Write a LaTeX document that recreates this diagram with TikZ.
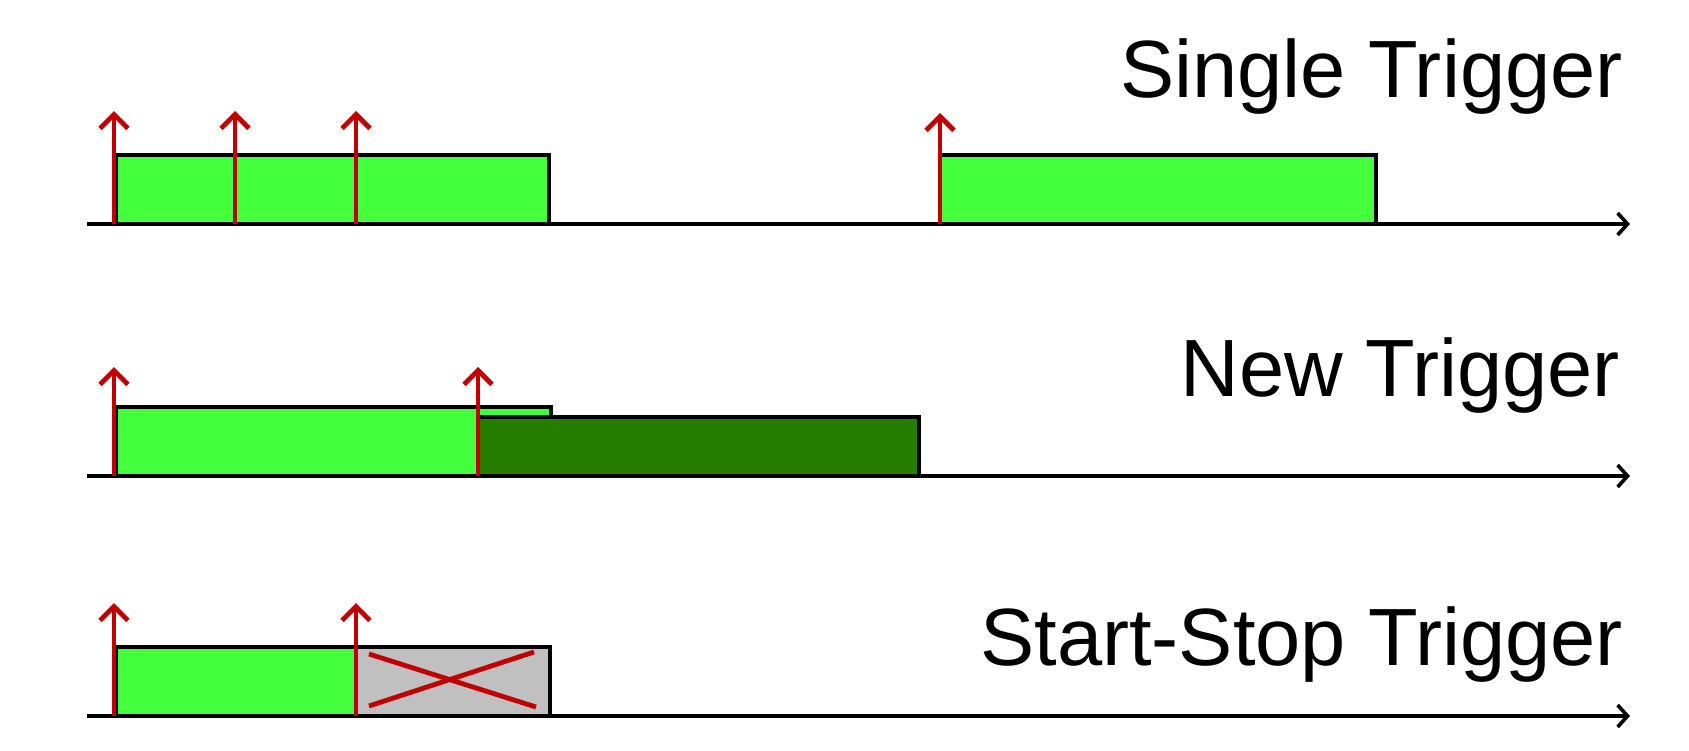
\documentclass[tikz,border=0pt]{standalone}
\usepackage{fontspec}
\setmainfont{Liberation Sans}
\usetikzlibrary{arrows.meta}
\definecolor{lgreen}{RGB}{68,255,59}
\definecolor{dgreen}{RGB}{38,125,0}
\definecolor{xgray}{RGB}{192,192,192}
\definecolor{tred}{RGB}{192,0,0}
\tikzset{
  axisline/.style={line width=1.8pt, -{Straight Barb[length=5pt,width=11pt,line width=1.8pt]}},
  pulse/.style={draw=black, line width=1.9pt},
  trig/.style={draw=tred, line width=2.4pt, -{Straight Barb[length=7pt,width=14pt,line width=2.4pt]}},
  cross/.style={draw=tred, line width=2.4pt},
  label/.style={anchor=base east, inner sep=0pt, font=\fontsize{40.6pt}{45pt}\selectfont}
}
\begin{document}
\begin{tikzpicture}[x=0.5pt,y=-0.5pt]
\useasboundingbox (0,0) rectangle (1689,750);
% ---------- Row 1 : Single Trigger
\coordinate (a1s) at (87,224);
\coordinate (a1e) at (1630,224);
\filldraw[pulse, fill=lgreen] (116,224) rectangle (549,155);
\filldraw[pulse, fill=lgreen] (940,224) rectangle (1376,155);
\draw[axisline] (a1s) -- (a1e);
\coordinate (t1a) at (114,224); \coordinate (t1ah) at (114,111);
\coordinate (t1b) at (235,224); \coordinate (t1bh) at (235,111);
\coordinate (t1c) at (356,224); \coordinate (t1ch) at (356,111);
\coordinate (t1d) at (940,224); \coordinate (t1dh) at (940,113);
\draw[trig] (t1a) -- (t1ah);
\draw[trig] (t1b) -- (t1bh);
\draw[trig] (t1c) -- (t1ch);
\draw[trig] (t1d) -- (t1dh);
\node[label] (l1) at (1623,97) {Single Trigger};
% ---------- Row 2 : New Trigger
\coordinate (a2s) at (87,476);
\coordinate (a2e) at (1630,476);
\filldraw[pulse, fill=lgreen] (116,476) rectangle (551,407);
\filldraw[pulse, fill=dgreen] (478,476) rectangle (919,417);
\draw[axisline] (a2s) -- (a2e);
\coordinate (t2a) at (114,476); \coordinate (t2ah) at (114,367);
\coordinate (t2b) at (478,476); \coordinate (t2bh) at (478,367);
\draw[trig] (t2a) -- (t2ah);
\draw[trig] (t2b) -- (t2bh);
\node[label] (l2) at (1620,396) {New Trigger};
% ---------- Row 3 : Start-Stop Trigger
\coordinate (a3s) at (87,716);
\coordinate (a3e) at (1630,716);
\filldraw[pulse, fill=lgreen] (116,716) rectangle (356,647);
\filldraw[pulse, fill=xgray] (356,716) rectangle (550,647);
\draw[axisline] (a3s) -- (a3e);
\coordinate (x1) at (369,654); \coordinate (x2) at (536,707);
\coordinate (x3) at (369,706); \coordinate (x4) at (534,652);
\draw[cross] (x1) -- (x2);
\draw[cross] (x3) -- (x4);
\coordinate (t3a) at (114,716); \coordinate (t3ah) at (114,603);
\coordinate (t3b) at (356,716); \coordinate (t3bh) at (356,603);
\draw[trig] (t3a) -- (t3ah);
\draw[trig] (t3b) -- (t3bh);
\node[label] (l3) at (1623,665) {Start-Stop Trigger};
\end{tikzpicture}
\end{document}
